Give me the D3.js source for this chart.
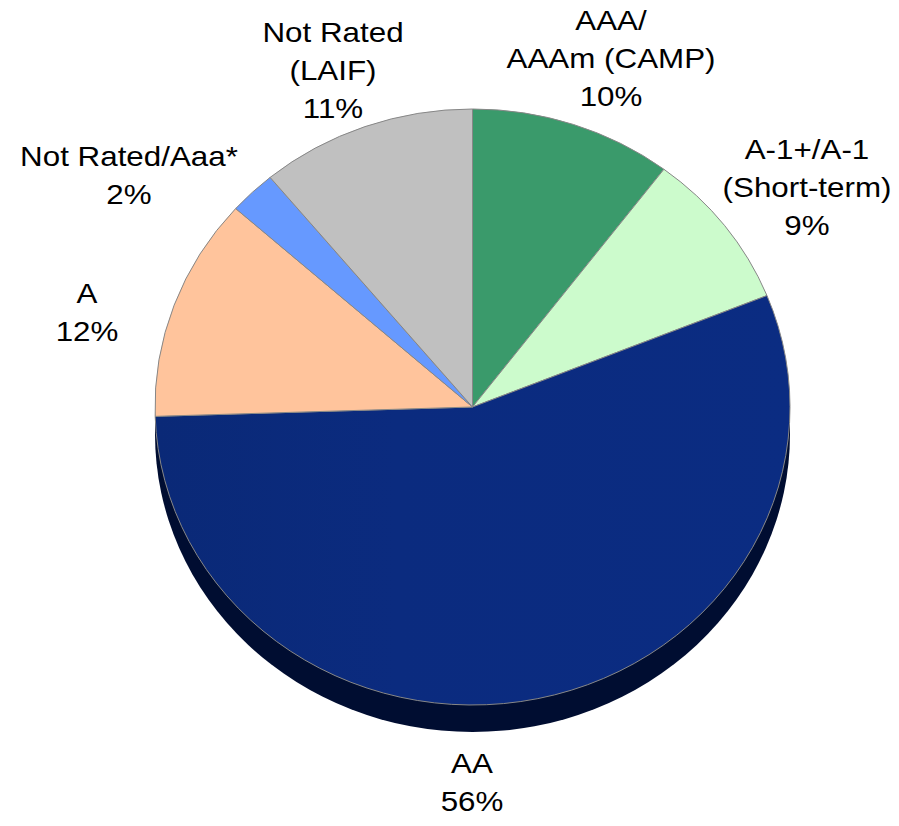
<!DOCTYPE html>
<html>
<head>
<meta charset="utf-8">
<script src="https://cdn.jsdelivr.net/npm/d3@7"></script>
<style>
body { margin: 0; background: #fff; }
text { font-family: "Liberation Sans", Arial, sans-serif; font-size: 28px; fill: #000; }
</style>
</head>
<body>
<svg id="chart"></svg>
<script>
// slices clockwise from 12 o'clock
var categories = ["AAA/AAAm (CAMP)", "A-1+/A-1 (Short-term)", "AA", "A", "Not Rated/Aaa*", "Not Rated (LAIF)"]
var shares = [10.3, 8.6, 55.6, 12.1, 2.4, 11.0]
var labelLines = [["AAA/", "AAAm (CAMP)"], ["A-1+/A-1", "(Short-term)"], ["AA"], ["A"], ["Not Rated/Aaa*"], ["Not Rated", "(LAIF)"]]
var colors = ["#3a9a6b", "#ccfbcc", "url(#aaGrad)", "#ffc49c", "#6699ff", "#c0c0c0"]

var screen = { width: 899, height: 826 }
var pieDim = { cx: 472.5, cy: 407, rx: 317.5, ry: 298, depth: 27 }

// where each label block starts (center x, first baseline)
var labelAnchors = [[611, 30], [807, 159], [472, 773], [87, 303], [129, 166], [333, 42]]
var lineGap = 38

var makeTranslateString = function (x, y) {
    return "translate(" + x + "," + y + ")";
}

var svg = d3.select("#chart")
    .attr("width", screen.width)
    .attr("height", screen.height)

var defs = svg.append("defs")
var grad = defs.append("linearGradient")
    .attr("id", "aaGrad")
    .attr("gradientUnits", "userSpaceOnUse")
    .attr("x1", -pieDim.rx).attr("y1", 0)
    .attr("x2", pieDim.rx).attr("y2", 0)
grad.append("stop").attr("offset", "0").attr("stop-color", "#0a2977")
grad.append("stop").attr("offset", "0.38").attr("stop-color", "#0b2b7f")
grad.append("stop").attr("offset", "1").attr("stop-color", "#0b2c82")

var scaleY = pieDim.ry / pieDim.rx
var pieGroup = svg.append("g")
    .attr("transform", makeTranslateString(pieDim.cx, pieDim.cy) + " scale(1," + scaleY + ")")

var arcGen = d3.arc()
    .innerRadius(0)
    .outerRadius(pieDim.rx)

// 3D side of the pie
var depthS = pieDim.depth / scaleY
var side = pieGroup.append("g").attr("fill", "#000d31")
side.append("path")
    .attr("transform", makeTranslateString(0, depthS))
    .attr("d", arcGen({ startAngle: Math.PI / 2, endAngle: Math.PI * 3 / 2 }))
side.append("rect")
    .attr("x", -pieDim.rx)
    .attr("y", 0)
    .attr("width", pieDim.rx * 2)
    .attr("height", depthS)

var pieGen = d3.pie()
    .sort(null)
    .value(function (d) { return d })

var slices = pieGen(shares)

pieGroup.selectAll("path.slice")
    .data(slices)
    .enter()
    .append("path")
    .classed("slice", true)
    .attr("d", arcGen)
    .attr("fill", function (d, i) { return colors[i] })
    .attr("stroke", "#878787")
    .attr("stroke-width", 1)
    .attr("vector-effect", "non-scaling-stroke")

// labels
var labels = svg.append("g").classed("labels", true)
categories.forEach(function (cat, i) {
    var lines = labelLines[i].concat([Math.round(shares[i]) + "%"])
    var t = labels.append("text")
        .attr("text-anchor", "middle")
        .attr("transform", makeTranslateString(labelAnchors[i][0], labelAnchors[i][1]) + " scale(1.12,1)")
    lines.forEach(function (line, j) {
        t.append("tspan")
            .attr("x", 0)
            .attr("y", j * lineGap)
            .text(line)
    })
})
</script>
</body>
</html>
